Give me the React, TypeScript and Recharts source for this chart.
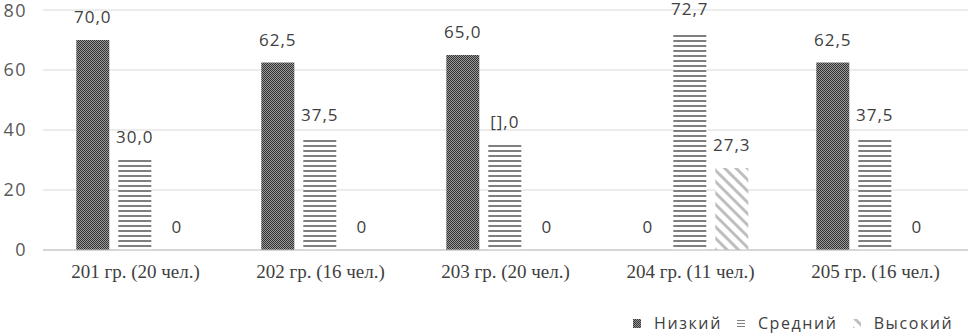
import { BarChart, Bar, XAxis, YAxis, CartesianGrid, LabelList } from "recharts";

const categories = [
  "201 гр. (20 чел.)",
  "202 гр. (16 чел.)",
  "203 гр. (20 чел.)",
  "204 гр. (11 чел.)",
  "205 гр. (16 чел.)",
];
const lowValues = [70, 62.5, 65, 0, 62.5];
const midValues = [30, 37.5, 35, 72.7, 37.5];
const highValues = [0, 0, 0, 27.3, 0];
const lowLabels = ["70,0", "62,5", "65,0", "0", "62,5"];
const midLabels = ["30,0", "37,5", "[],0", "72,7", "37,5"];
const highLabels = ["0", "0", "0", "27,3", "0"];
const seriesNames = ["Низкий", "Средний", "Высокий"];
const yTicks = [0, 20, 40, 60, 80];
const edgeTicks = [0, 1, 2, 3, 4, 5];

const data = categories.map((name, i) => ({
  name,
  low: lowValues[i],
  mid: midValues[i],
  high: highValues[i],
}));

const labelFont = "'Open Sans', sans-serif";

const makeLabel = (labels: string[]) => (props: any) => {
  const { x, y, width, height, index } = props;
  const top = Math.min(y, y + height);
  return (
    <text
      x={x + width / 2}
      y={top - 17}
      textAnchor="middle"
      fontSize={17}
      fill="#404040"
      fontFamily={labelFont}
      letterSpacing={1}
    >
      {labels[index]}
    </text>
  );
};

// keep zero bars in the layout so their "0" labels are drawn
const zeroSize = (value: any) => (value === 0 ? 0.01 : 0);

const patternIds = ["patLow", "patMidKey", "patHigh"];

const LegendBox = () => (
  <div
    style={{
      position: "absolute",
      left: 633,
      top: 313,
      display: "flex",
      alignItems: "center",
      fontFamily: labelFont,
      fontSize: 16,
      color: "#404040",
      letterSpacing: 1.6,
      lineHeight: "20px",
    }}
  >
    {seriesNames.map((n, i) => (
      <div key={n} style={{ display: "flex", alignItems: "center", marginRight: 15 }}>
        <svg width={8} height={9} style={{ marginRight: 13 }}>
          <rect width={8} height={9} fill={`url(#${patternIds[i]})`} />
        </svg>
        <span>{n}</span>
      </div>
    ))}
  </div>
);

export default function App() {
  return (
    <div style={{ position: "absolute", left: 0, top: 0, width: 970, height: 336, background: "#fff" }}>
      <BarChart
        width={970}
        height={336}
        data={data}
        margin={{ top: 10, right: 2, left: 0, bottom: 0 }}
        barCategoryGap="18%"
        barGap={9}
      >
        <defs>
          <pattern id="patLow" width={2} height={2} patternUnits="userSpaceOnUse">
            <rect width={2} height={2} fill="#999999" />
            <rect x={0} y={0} width={1} height={1} fill="#333333" />
            <rect x={1} y={1} width={1} height={1} fill="#333333" />
          </pattern>
          <pattern id="patMid" width={4} height={5} patternUnits="userSpaceOnUse">
            <rect width={4} height={5} fill="#fff" />
            <rect x={0} y={0} width={4} height={2} fill="#7f7f7f" />
          </pattern>
          <pattern id="patMidKey" width={4} height={3} patternUnits="userSpaceOnUse">
            <rect width={4} height={3} fill="#fff" />
            <rect x={0} y={1} width={4} height={1} fill="#7f7f7f" />
          </pattern>
          <pattern id="patHigh" width={8} height={8} patternUnits="userSpaceOnUse" patternTransform="rotate(-45)">
            <rect width={8} height={8} fill="#fff" />
            <rect x={0} y={0} width={3} height={8} fill="#bfbfbf" />
          </pattern>
        </defs>
        <CartesianGrid vertical={false} stroke="#d9d9d9" />
        <XAxis
          xAxisId="edges"
          type="number"
          domain={[0, 5]}
          ticks={edgeTicks}
          allowDataOverflow
          height={0}
          axisLine={false}
          tickSize={5}
          tickLine={{ stroke: "#bfbfbf" }}
          tickFormatter={() => ""}
        />
        <XAxis
          dataKey="name"
          height={86}
          axisLine={{ stroke: "#bfbfbf" }}
          tickLine={false}
          tick={{ fill: "#404040", fontSize: 19, fontFamily: "Liberation Serif, Times New Roman, serif" }}
          tickMargin={9}
        />
        <YAxis
          width={43}
          domain={[0, 80]}
          ticks={yTicks}
          axisLine={false}
          tickLine={false}
          tickMargin={10}
          tick={{ fill: "#595959", fontSize: 18, fontFamily: labelFont, letterSpacing: 1.5 }}
        />
        <Bar dataKey="low" name={seriesNames[0]} fill="url(#patLow)" minPointSize={zeroSize} isAnimationActive={false}>
          <LabelList dataKey="low" content={makeLabel(lowLabels)} />
        </Bar>
        <Bar dataKey="mid" name={seriesNames[1]} fill="url(#patMid)" minPointSize={zeroSize} isAnimationActive={false}>
          <LabelList dataKey="mid" content={makeLabel(midLabels)} />
        </Bar>
        <Bar dataKey="high" name={seriesNames[2]} fill="url(#patHigh)" minPointSize={zeroSize} isAnimationActive={false}>
          <LabelList dataKey="high" content={makeLabel(highLabels)} />
        </Bar>
      </BarChart>
      <LegendBox />
    </div>
  );
}
